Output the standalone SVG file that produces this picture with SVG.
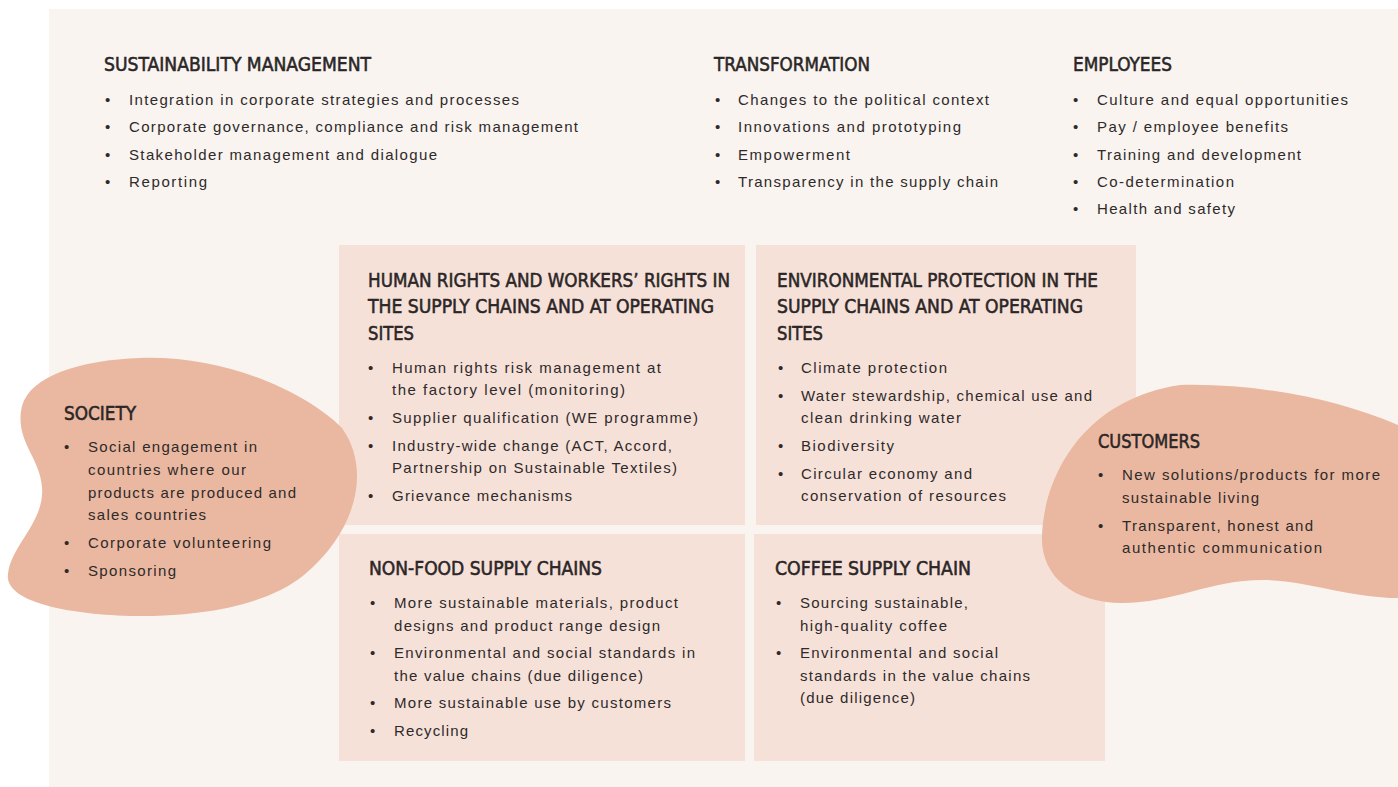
<svg xmlns="http://www.w3.org/2000/svg" width="1398" height="787" viewBox="0 0 1398 787">
<style>
.h{font-family:"DejaVu Sans Condensed","DejaVu Sans",sans-serif;font-stretch:condensed;font-size:20px;fill:#2b2626;stroke:#2b2626;stroke-width:0.55px}
.t{font-family:"Liberation Sans",Arial,sans-serif;font-size:15px;fill:#2e2a2a}
.box{fill:#f6e1d9}
.blob{fill:#eab8a0}
</style>
<rect x="0" y="0" width="1398" height="787" fill="#ffffff"/>
<rect x="49" y="9" width="1349" height="778" fill="#f9f4f0"/>
<g id="connectors"/>
<g id="sustainability-management">
<text class="h" x="104" y="71" textLength="267" lengthAdjust="spacingAndGlyphs">SUSTAINABILITY MANAGEMENT</text>
<text class="t" x="105" y="105">•</text><text class="t" x="129" y="105" textLength="390">Integration in corporate strategies and processes</text>
<text class="t" x="105" y="132">•</text><text class="t" x="129" y="132" textLength="449">Corporate governance, compliance and risk management</text>
<text class="t" x="105" y="160">•</text><text class="t" x="129" y="160" textLength="308">Stakeholder management and dialogue</text>
<text class="t" x="105" y="187">•</text><text class="t" x="129" y="187" textLength="78">Reporting</text>
</g>
<g id="transformation">
<text class="h" x="714" y="71" textLength="156" lengthAdjust="spacingAndGlyphs">TRANSFORMATION</text>
<text class="t" x="715" y="105">•</text><text class="t" x="738" y="105" textLength="251">Changes to the political context</text>
<text class="t" x="715" y="132">•</text><text class="t" x="738" y="132" textLength="223">Innovations and prototyping</text>
<text class="t" x="715" y="160">•</text><text class="t" x="738" y="160" textLength="112">Empowerment</text>
<text class="t" x="715" y="187">•</text><text class="t" x="738" y="187" textLength="260">Transparency in the supply chain</text>
</g>
<g id="employees">
<text class="h" x="1073" y="71" textLength="99" lengthAdjust="spacingAndGlyphs">EMPLOYEES</text>
<text class="t" x="1073" y="105">•</text><text class="t" x="1097" y="105" textLength="251">Culture and equal opportunities</text>
<text class="t" x="1073" y="132">•</text><text class="t" x="1097" y="132" textLength="191">Pay / employee benefits</text>
<text class="t" x="1073" y="160">•</text><text class="t" x="1097" y="160" textLength="204">Training and development</text>
<text class="t" x="1073" y="187">•</text><text class="t" x="1097" y="187" textLength="137">Co-determination</text>
<text class="t" x="1073" y="214">•</text><text class="t" x="1097" y="214" textLength="138">Health and safety</text>
</g>
<g id="human-rights">
<rect class="box" x="339" y="245" width="406" height="280"/>
<text class="h" x="368" y="287" textLength="362" lengthAdjust="spacingAndGlyphs">HUMAN RIGHTS AND WORKERS’ RIGHTS IN</text>
<text class="h" x="368" y="313" textLength="346" lengthAdjust="spacingAndGlyphs">THE SUPPLY CHAINS AND AT OPERATING</text>
<text class="h" x="368" y="340" textLength="46" lengthAdjust="spacingAndGlyphs">SITES</text>
<text class="t" x="368" y="373">•</text><text class="t" x="392" y="373" textLength="269">Human rights risk management at</text>
<text class="t" x="392" y="395" textLength="233">the factory level (monitoring)</text>
<text class="t" x="368" y="423">•</text><text class="t" x="392" y="423" textLength="306">Supplier qualification (WE programme)</text>
<text class="t" x="368" y="451">•</text><text class="t" x="392" y="451" textLength="280">Industry-wide change (ACT, Accord,</text>
<text class="t" x="392" y="473" textLength="285">Partnership on Sustainable Textiles)</text>
<text class="t" x="368" y="501">•</text><text class="t" x="392" y="501" textLength="180">Grievance mechanisms</text>
</g>
<g id="environmental-protection">
<rect class="box" x="756" y="245" width="380" height="280"/>
<text class="h" x="777" y="287" textLength="321" lengthAdjust="spacingAndGlyphs">ENVIRONMENTAL PROTECTION IN THE</text>
<text class="h" x="777" y="313" textLength="306" lengthAdjust="spacingAndGlyphs">SUPPLY CHAINS AND AT OPERATING</text>
<text class="h" x="777" y="340" textLength="46" lengthAdjust="spacingAndGlyphs">SITES</text>
<text class="t" x="778" y="373">•</text><text class="t" x="801" y="373" textLength="146">Climate protection</text>
<text class="t" x="778" y="401">•</text><text class="t" x="801" y="401" textLength="291">Water stewardship, chemical use and</text>
<text class="t" x="801" y="423" textLength="160">clean drinking water</text>
<text class="t" x="778" y="451">•</text><text class="t" x="801" y="451" textLength="93">Biodiversity</text>
<text class="t" x="778" y="479">•</text><text class="t" x="801" y="479" textLength="171">Circular economy and</text>
<text class="t" x="801" y="501" textLength="205">conservation of resources</text>
</g>
<g id="non-food-supply-chains">
<rect class="box" x="339" y="534" width="406" height="227"/>
<text class="h" x="369" y="575" textLength="233" lengthAdjust="spacingAndGlyphs">NON-FOOD SUPPLY CHAINS</text>
<text class="t" x="370" y="608">•</text><text class="t" x="394" y="608" textLength="284">More sustainable materials, product</text>
<text class="t" x="394" y="631" textLength="266">designs and product range design</text>
<text class="t" x="370" y="658">•</text><text class="t" x="394" y="658" textLength="301">Environmental and social standards in</text>
<text class="t" x="394" y="681" textLength="249">the value chains (due diligence)</text>
<text class="t" x="370" y="708">•</text><text class="t" x="394" y="708" textLength="277">More sustainable use by customers</text>
<text class="t" x="370" y="736">•</text><text class="t" x="394" y="736" textLength="74">Recycling</text>
</g>
<g id="coffee-supply-chain">
<rect class="box" x="754" y="534" width="351" height="227"/>
<text class="h" x="775" y="575" textLength="196" lengthAdjust="spacingAndGlyphs">COFFEE SUPPLY CHAIN</text>
<text class="t" x="776" y="608">•</text><text class="t" x="800" y="608" textLength="168">Sourcing sustainable,</text>
<text class="t" x="800" y="631" textLength="147">high-quality coffee</text>
<text class="t" x="776" y="658">•</text><text class="t" x="800" y="658" textLength="198">Environmental and social</text>
<text class="t" x="800" y="681" textLength="230">standards in the value chains</text>
<text class="t" x="800" y="703" textLength="115">(due diligence)</text>
</g>
<g id="society">
<path class="blob" d="M140 358 C222 355 304 390 342 428 C372 470 356 532 304 575 C264 608 192 617 130 616 C60 614 4 600 8 574 C11 545 45 522 42 487 C40 457 14 440 22 406 C30 376 80 360 140 358 Z"/>
<text class="h" x="64" y="420" textLength="72" lengthAdjust="spacingAndGlyphs">SOCIETY</text>
<text class="t" x="64" y="452">•</text><text class="t" x="88" y="452" textLength="169">Social engagement in</text>
<text class="t" x="88" y="475" textLength="158">countries where our</text>
<text class="t" x="88" y="498" textLength="208">products are produced and</text>
<text class="t" x="88" y="520" textLength="118">sales countries</text>
<text class="t" x="64" y="548">•</text><text class="t" x="88" y="548" textLength="183">Corporate volunteering</text>
<text class="t" x="64" y="576">•</text><text class="t" x="88" y="576" textLength="88">Sponsoring</text>
</g>
<g id="customers">
<path class="blob" d="M1180 385 C1260 383 1340 400 1398 425 L1398 598 C1350 598 1305 580 1262 580 C1212 580 1172 603 1122 603 C1072 603 1040 575 1042 535 C1044 480 1080 400 1180 385 Z"/>
<text class="h" x="1098" y="448" textLength="102" lengthAdjust="spacingAndGlyphs">CUSTOMERS</text>
<text class="t" x="1098" y="480">•</text><text class="t" x="1122" y="480" textLength="258">New solutions/products for more</text>
<text class="t" x="1122" y="503" textLength="137">sustainable living</text>
<text class="t" x="1098" y="531">•</text><text class="t" x="1122" y="531" textLength="191">Transparent, honest and</text>
<text class="t" x="1122" y="553" textLength="200">authentic communication</text>
</g>
</svg>
